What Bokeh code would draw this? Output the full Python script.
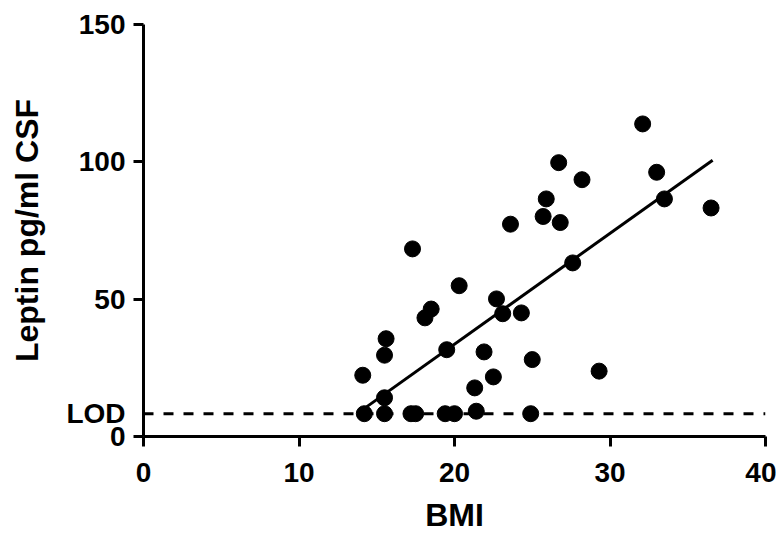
from bokeh.plotting import figure
from bokeh.models import FixedTicker
from bokeh.embed import file_html
from bokeh.resources import INLINE

# Data
bmi = [14.1, 15.5, 15.6, 15.5, 17.3, 18.1, 18.5, 19.5, 20.3, 21.3, 21.9, 22.5,
       22.7, 23.1, 24.3, 23.6, 25.0, 25.7, 25.9, 26.8, 26.7, 28.2, 27.6, 29.3,
       32.1, 33.0, 33.5, 36.5,
       14.2, 15.5, 17.2, 17.5, 19.4, 20.0, 21.4, 24.9]
leptin = [22.3, 29.6, 35.6, 14.1, 68.3, 43.2, 46.4, 31.6, 54.9, 17.7, 30.8, 21.7,
          50.1, 44.7, 45.0, 77.3, 28.0, 80.1, 86.5, 77.9, 99.7, 93.5, 63.2, 23.8,
          113.8, 96.2, 86.5, 83.2,
          8.3, 8.3, 8.3, 8.3, 8.3, 8.3, 9.2, 8.3]
fit_x = [14.3, 36.6]
fit_y = [10.6, 100.6]
LOD = 8.3
x_ticks = [0, 10, 20, 30, 40]
y_ticks = [0, 50, 100, 150]

FONT = "Liberation Sans"

p = figure(width=776, height=535, x_range=(0, 40), y_range=(0, 150),
           output_backend="svg", toolbar_location=None,
           min_border_left=143, min_border_right=11, min_border_top=24,
           min_border_bottom=10)
p.outline_line_color = None
p.grid.visible = False
p.background_fill_color = "white"
p.border_fill_color = "white"

for ax in (p.xaxis[0], p.yaxis[0]):
    ax.axis_line_width = 3
    ax.axis_line_color = "black"
    ax.major_tick_line_width = 3
    ax.major_tick_line_color = "black"
    ax.major_tick_out = 10
    ax.major_tick_in = 0
    ax.minor_tick_line_color = None
    ax.major_label_text_font = FONT
    ax.major_label_text_font_style = "bold"
    ax.major_label_text_font_size = "28px"
    ax.major_label_text_color = "black"
    ax.axis_label_text_font = FONT
    ax.axis_label_text_font_style = "bold"
    ax.axis_label_text_font_size = "32px"
    ax.axis_label_text_color = "black"

p.xaxis.ticker = FixedTicker(ticks=x_ticks)
# y: labelled major ticks include LOD; visible tick marks drawn as minor ticks
p.yaxis.ticker = FixedTicker(ticks=y_ticks + [LOD], minor_ticks=y_ticks)
p.yaxis.major_label_overrides = {LOD: "LOD"}
p.yaxis.major_tick_line_color = None
p.yaxis.minor_tick_line_color = "black"
p.yaxis.minor_tick_line_width = 3
p.yaxis.minor_tick_out = 10
p.yaxis.minor_tick_in = 0

p.xaxis.axis_label = "BMI"
p.yaxis.axis_label = "Leptin pg/ml CSF"
p.xaxis.major_label_standoff = 16
p.yaxis.major_label_standoff = 8
p.xaxis.axis_label_standoff = 12
p.yaxis.axis_label_standoff = 18

# LOD dashed line
p.line([x_ticks[0], x_ticks[-1]], [LOD, LOD], line_color="black", line_width=3,
       line_dash="10 10")

# regression line
p.line(fit_x, fit_y, line_color="black", line_width=3)

# data points
p.scatter(bmi, leptin, size=16, fill_color="black", line_color="black")

open("out.html", "w").write(file_html(p, INLINE))
